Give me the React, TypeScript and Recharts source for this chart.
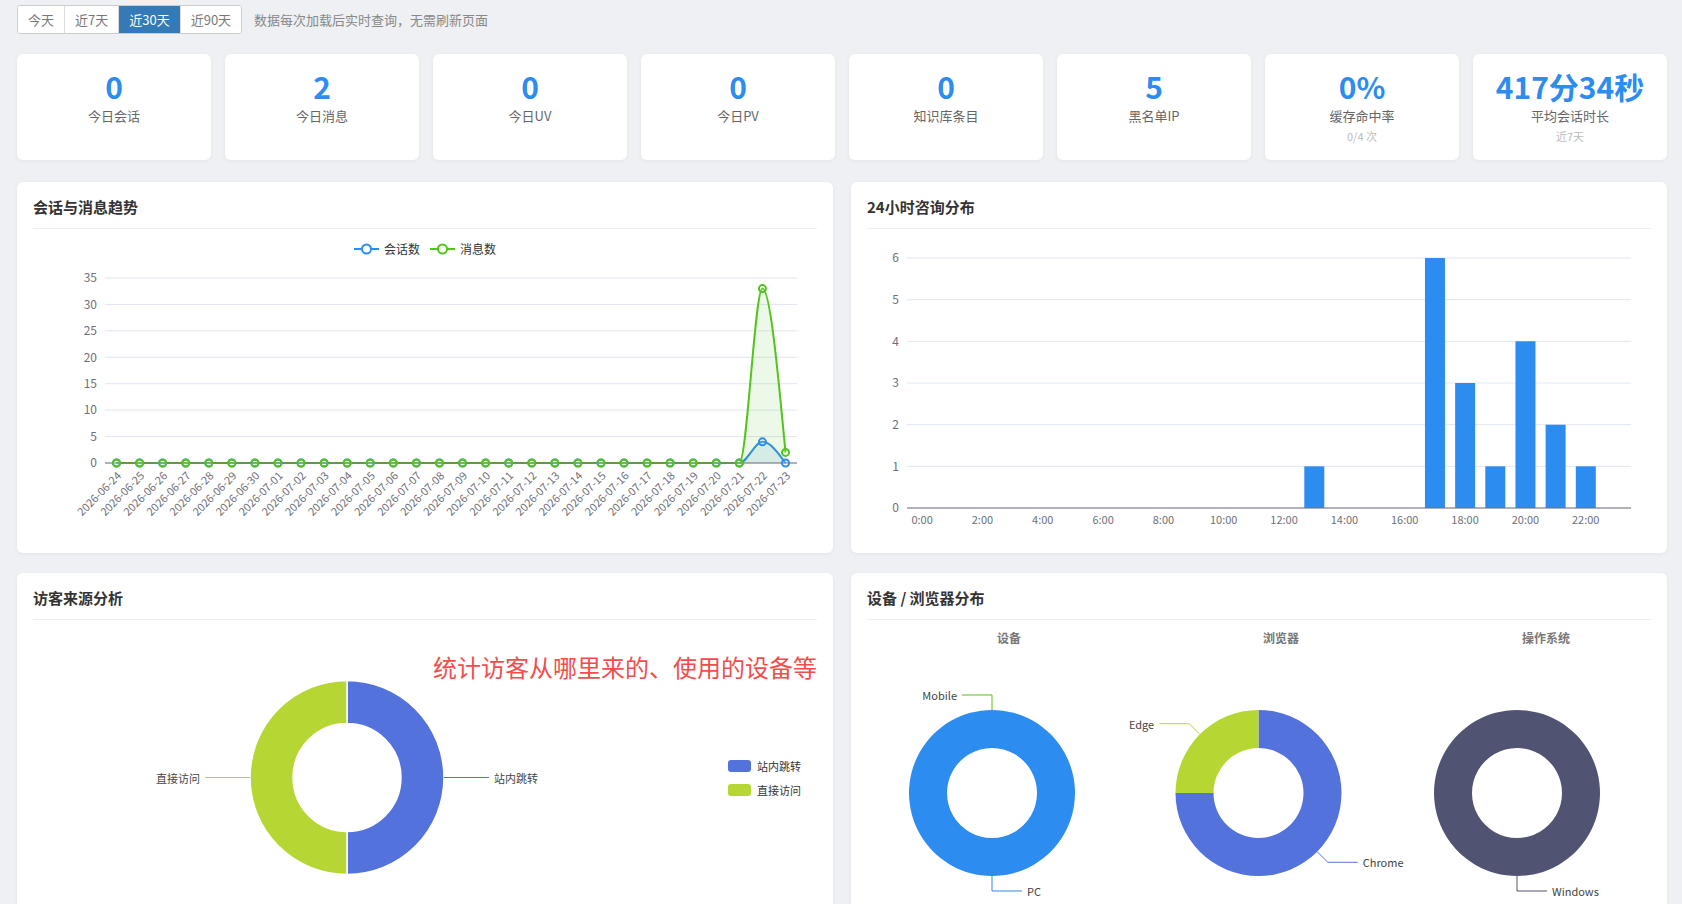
import { AreaChart, Area, BarChart, Bar, PieChart, Pie, Cell, XAxis, YAxis, CartesianGrid, Legend } from "recharts"

const ranges = ["今天", "近7天", "近30天", "近90天"]
const activeRange = 2

const statValues = ["0", "2", "0", "0", "0", "5", "0%", "417分34秒"]
const statLabels = ["今日会话", "今日消息", "今日UV", "今日PV", "知识库条目", "黑名单IP", "缓存命中率", "平均会话时长"]
const statNotes = ["", "", "", "", "", "", "0/4 次", "近7天"]

const trendDates = [
  "2026-06-24", "2026-06-25", "2026-06-26", "2026-06-27", "2026-06-28", "2026-06-29", "2026-06-30",
  "2026-07-01", "2026-07-02", "2026-07-03", "2026-07-04", "2026-07-05", "2026-07-06", "2026-07-07",
  "2026-07-08", "2026-07-09", "2026-07-10", "2026-07-11", "2026-07-12", "2026-07-13", "2026-07-14",
  "2026-07-15", "2026-07-16", "2026-07-17", "2026-07-18", "2026-07-19", "2026-07-20", "2026-07-21",
  "2026-07-22", "2026-07-23",
]
const sessionCounts = [0, 0, 0, 0, 0, 0, 0, 0, 0, 0, 0, 0, 0, 0, 0, 0, 0, 0, 0, 0, 0, 0, 0, 0, 0, 0, 0, 0, 4, 0]
const messageCounts = [0, 0, 0, 0, 0, 0, 0, 0, 0, 0, 0, 0, 0, 0, 0, 0, 0, 0, 0, 0, 0, 0, 0, 0, 0, 0, 0, 0, 33, 2]
const trendTicks = [0, 5, 10, 15, 20, 25, 30, 35]

const hours = [
  "0:00", "1:00", "2:00", "3:00", "4:00", "5:00", "6:00", "7:00", "8:00", "9:00", "10:00", "11:00",
  "12:00", "13:00", "14:00", "15:00", "16:00", "17:00", "18:00", "19:00", "20:00", "21:00", "22:00", "23:00",
]
const hourCounts = [0, 0, 0, 0, 0, 0, 0, 0, 0, 0, 0, 0, 0, 1, 0, 0, 0, 6, 3, 1, 4, 2, 1, 0]
const hourTicks = [0, 1, 2, 3, 4, 5, 6]

const sourceNames = ["站内跳转", "直接访问"]
const sourceValues = [1, 1]
const deviceNames = ["PC", "Mobile"]
const deviceValues = [5, 0]
const browserNames = ["Chrome", "Edge"]
const browserValues = [3, 1]
const osNames = ["Windows"]
const osValues = [4]

const BLUE = "#2d8cf0"
const GREEN = "#52c41a"
const INDIGO = "#5372db"
const LIME = "#b6d634"
const SLATE = "#505372"
const AXIS = "#6e7079"
const GRID = "#e0e6f1"
const FONT = '"Noto Sans CJK SC", "Noto Sans", sans-serif'

const trendData = trendDates.map((d, i) => ({ date: d, sessions: sessionCounts[i], messages: messageCounts[i] }))
const hourData = hours.map((h, i) => ({ hour: h, count: hourCounts[i] }))
const toPie = (names: string[], values: number[]) => names.map((n, i) => ({ name: n, value: values[i] }))

const trendLegend = [
  { name: "会话数", color: BLUE },
  { name: "消息数", color: GREEN },
]
const sourceColors = [INDIGO, LIME]

function pieLabel(colors: string[]) {
  return (props: any) => {
    const { cx, cy, midAngle, outerRadius, index, name } = props
    const rad = Math.PI / 180
    const cos = Math.cos(-midAngle * rad)
    const sin = Math.sin(-midAngle * rad)
    let dir = cos > 1e-6 ? 1 : cos < -1e-6 ? -1 : sin < 0 ? -1 : 1
    const sx = cx + outerRadius * cos
    const sy = cy + outerRadius * sin
    const mx = cx + (outerRadius + 15) * cos
    const my = cy + (outerRadius + 15) * sin
    const ex = mx + dir * 30
    return (
      <g>
        <polyline points={`${sx},${sy} ${mx},${my} ${ex},${my}`} fill="none" stroke={colors[index]} strokeWidth={1} />
        <text x={ex + dir * 5} y={my} textAnchor={dir > 0 ? "start" : "end"} dominantBaseline="central" fontSize={11} fill="#444">
          {name}
        </text>
      </g>
    )
  }
}

function Panel({ left, top, height, title, children }: any) {
  return (
    <div style={{ position: "absolute", left, top, width: 816, height, background: "#fff", borderRadius: 6, boxShadow: "0 1px 4px rgba(0,0,0,0.05)", overflow: "hidden" }}>
      <div style={{ position: "absolute", left: 16, top: 15, fontSize: 15, fontWeight: 700, color: "#333", lineHeight: "20px" }}>{title}</div>
      <div style={{ position: "absolute", left: 16, right: 16, top: 46, height: 1, background: "#eceef2" }} />
      {children}
    </div>
  )
}

export default function App() {
  return (
    <div style={{ position: "relative", width: 1682, height: 904, background: "#eef0f3", overflow: "hidden", fontFamily: FONT }}>
      <style>{`body{margin:0}`}</style>

      <div style={{ position: "absolute", left: 17, top: 5, height: 27, display: "flex", border: "1px solid #ccc", borderRadius: 3, overflow: "hidden", background: "#fff" }}>
        {ranges.map((r, i) => (
          <div key={r} style={{ padding: "0 10px", lineHeight: "27px", fontSize: 13, color: i === activeRange ? "#fff" : "#777", background: i === activeRange ? "#337ab7" : "#fff", borderLeft: i > 0 ? "1px solid #ddd" : "none" }}>
            {r}
          </div>
        ))}
      </div>
      <div style={{ position: "absolute", left: 254, top: 5, lineHeight: "29px", fontSize: 13, color: "#888" }}>数据每次加载后实时查询，无需刷新页面</div>

      {statValues.map((v, i) => (
        <div key={i} style={{ position: "absolute", left: 17 + i * 208, top: 54, width: 194, height: 106, background: "#fff", borderRadius: 6, boxShadow: "0 1px 4px rgba(0,0,0,0.05)", textAlign: "center" }}>
          <div style={{ position: "absolute", left: 0, right: 0, top: 14, lineHeight: "36px", fontSize: 30, fontWeight: 700, color: BLUE }}>{v}</div>
          <div style={{ position: "absolute", left: 0, right: 0, top: 53, lineHeight: "18px", fontSize: 13, color: "#666" }}>{statLabels[i]}</div>
          {statNotes[i] && (
            <div style={{ position: "absolute", left: 0, right: 0, top: 74, lineHeight: "16px", fontSize: 11, color: "#bbb" }}>{statNotes[i]}</div>
          )}
        </div>
      ))}

      <Panel left={17} top={182} height={371} title="会话与消息趋势">
        <div style={{ position: "absolute", left: 0, top: 0 }}>
          <AreaChart width={816} height={371} data={trendData} margin={{ top: 96, right: 36, bottom: 0, left: 0 }}>
            <CartesianGrid vertical={false} stroke={GRID} />
            <XAxis dataKey="date" interval={0} height={90} padding={{ left: 11.5, right: 11.5 }} tickLine={false} stroke={AXIS}
              tick={{ fontSize: 11, fill: AXIS, angle: -45, textAnchor: "end" }} />
            <YAxis width={88} domain={[0, 35]} ticks={trendTicks} axisLine={false} tickLine={false} tick={{ fontSize: 12, fill: AXIS }} />
            <Legend layout="horizontal" align="center" verticalAlign="middle" wrapperStyle={{ left: 0, top: 58, width: 816 }}
              content={() => (
                <div style={{ display: "flex", justifyContent: "center", alignItems: "center", gap: 10, fontSize: 12, color: "#333" }}>
                  {trendLegend.map((s) => (
                    <div key={s.name} style={{ display: "flex", alignItems: "center" }}>
                      <svg width={25} height={14}>
                        <line x1={0} y1={7} x2={25} y2={7} stroke={s.color} strokeWidth={2} />
                        <circle cx={12.5} cy={7} r={4.5} fill="#fff" stroke={s.color} strokeWidth={2} />
                      </svg>
                      <span style={{ marginLeft: 5 }}>{s.name}</span>
                    </div>
                  ))}
                </div>
              )} />
            <Area type="monotone" dataKey="sessions" name="会话数" stroke={BLUE} strokeWidth={2} fill={BLUE} fillOpacity={0.12}
              dot={{ r: 3.5, fill: "#fff", stroke: BLUE, strokeWidth: 2 }} activeDot={false} isAnimationActive={false} />
            <Area type="monotone" dataKey="messages" name="消息数" stroke={GREEN} strokeWidth={2} fill={GREEN} fillOpacity={0.1}
              dot={{ r: 3.5, fill: "#fff", stroke: GREEN, strokeWidth: 2 }} activeDot={false} isAnimationActive={false} />
          </AreaChart>
        </div>
      </Panel>

      <Panel left={851} top={182} height={371} title="24小时咨询分布">
        <div style={{ position: "absolute", left: 0, top: 0 }}>
          <BarChart width={816} height={371} data={hourData} margin={{ top: 76, right: 36, bottom: 0, left: 0 }} barCategoryGap="17%">
            <CartesianGrid vertical={false} stroke={GRID} />
            <XAxis dataKey="hour" interval={1} height={45} tickLine={false} stroke={AXIS} tick={{ fontSize: 11, fill: AXIS }} />
            <YAxis width={56} domain={[0, 6]} ticks={hourTicks} axisLine={false} tickLine={false} tick={{ fontSize: 12, fill: AXIS }} />
            <Bar dataKey="count" fill={BLUE} isAnimationActive={false} />
          </BarChart>
        </div>
      </Panel>

      <Panel left={17} top={573} height={340} title="访客来源分析">
        <div style={{ position: "absolute", right: 16, top: 80, fontSize: 24, lineHeight: "28px", color: "#f24d4d" }}>统计访客从哪里来的、使用的设备等</div>
        <div style={{ position: "absolute", left: 0, top: 0 }}>
          <PieChart width={816} height={331} margin={{ top: 0, right: 0, bottom: 0, left: 0 }}>
            <Pie data={toPie(sourceNames, sourceValues)} dataKey="value" nameKey="name" cx={330} cy={204.5} innerRadius={54} outerRadius={97}
              startAngle={90} endAngle={-270} stroke="#fff" strokeWidth={1.5} label={pieLabel(sourceColors)} labelLine={false} isAnimationActive={false}>
              {sourceNames.map((n, i) => <Cell key={n} fill={sourceColors[i]} />)}
            </Pie>
            <Legend layout="vertical" align="right" verticalAlign="middle" wrapperStyle={{ left: 711, top: 184, width: 100 }}
              content={() => (
                <div style={{ fontSize: 11, color: "#333" }}>
                  {sourceNames.map((n, i) => (
                    <div key={n} style={{ display: "flex", alignItems: "center", height: 17, marginBottom: 7.5 }}>
                      <div style={{ width: 23, height: 12, borderRadius: 3, background: sourceColors[i] }} />
                      <span style={{ marginLeft: 6 }}>{n}</span>
                    </div>
                  ))}
                </div>
              )} />
          </PieChart>
        </div>
      </Panel>

      <Panel left={851} top={573} height={340} title="设备 / 浏览器分布">
        {["设备", "浏览器", "操作系统"].map((t, i) => (
          <div key={t} style={{ position: "absolute", left: [158, 430, 695][i] - 50, top: 56, width: 100, textAlign: "center", lineHeight: "18px", fontSize: 12, fontWeight: 700, color: "#777" }}>{t}</div>
        ))}
        <div style={{ position: "absolute", left: 0, top: 0 }}>
          <PieChart width={816} height={331} margin={{ top: 0, right: 0, bottom: 0, left: 0 }}>
            <Pie data={toPie(deviceNames, deviceValues)} dataKey="value" nameKey="name" cx={141} cy={220} innerRadius={45} outerRadius={83}
              startAngle={90} endAngle={-270} stroke="none" label={pieLabel([BLUE, GREEN])} labelLine={false} isAnimationActive={false}>
              <Cell fill={BLUE} />
              <Cell fill={GREEN} />
            </Pie>
            <Pie data={toPie(browserNames, browserValues)} dataKey="value" nameKey="name" cx={407.5} cy={220} innerRadius={45} outerRadius={83}
              startAngle={90} endAngle={-270} stroke="none" label={pieLabel([INDIGO, LIME])} labelLine={false} isAnimationActive={false}>
              <Cell fill={INDIGO} />
              <Cell fill={LIME} />
            </Pie>
            <Pie data={toPie(osNames, osValues)} dataKey="value" nameKey="name" cx={666} cy={220} innerRadius={45} outerRadius={83}
              startAngle={90} endAngle={-270} stroke="none" label={pieLabel([SLATE])} labelLine={false} isAnimationActive={false}>
              <Cell fill={SLATE} />
            </Pie>
          </PieChart>
        </div>
      </Panel>
    </div>
  )
}
